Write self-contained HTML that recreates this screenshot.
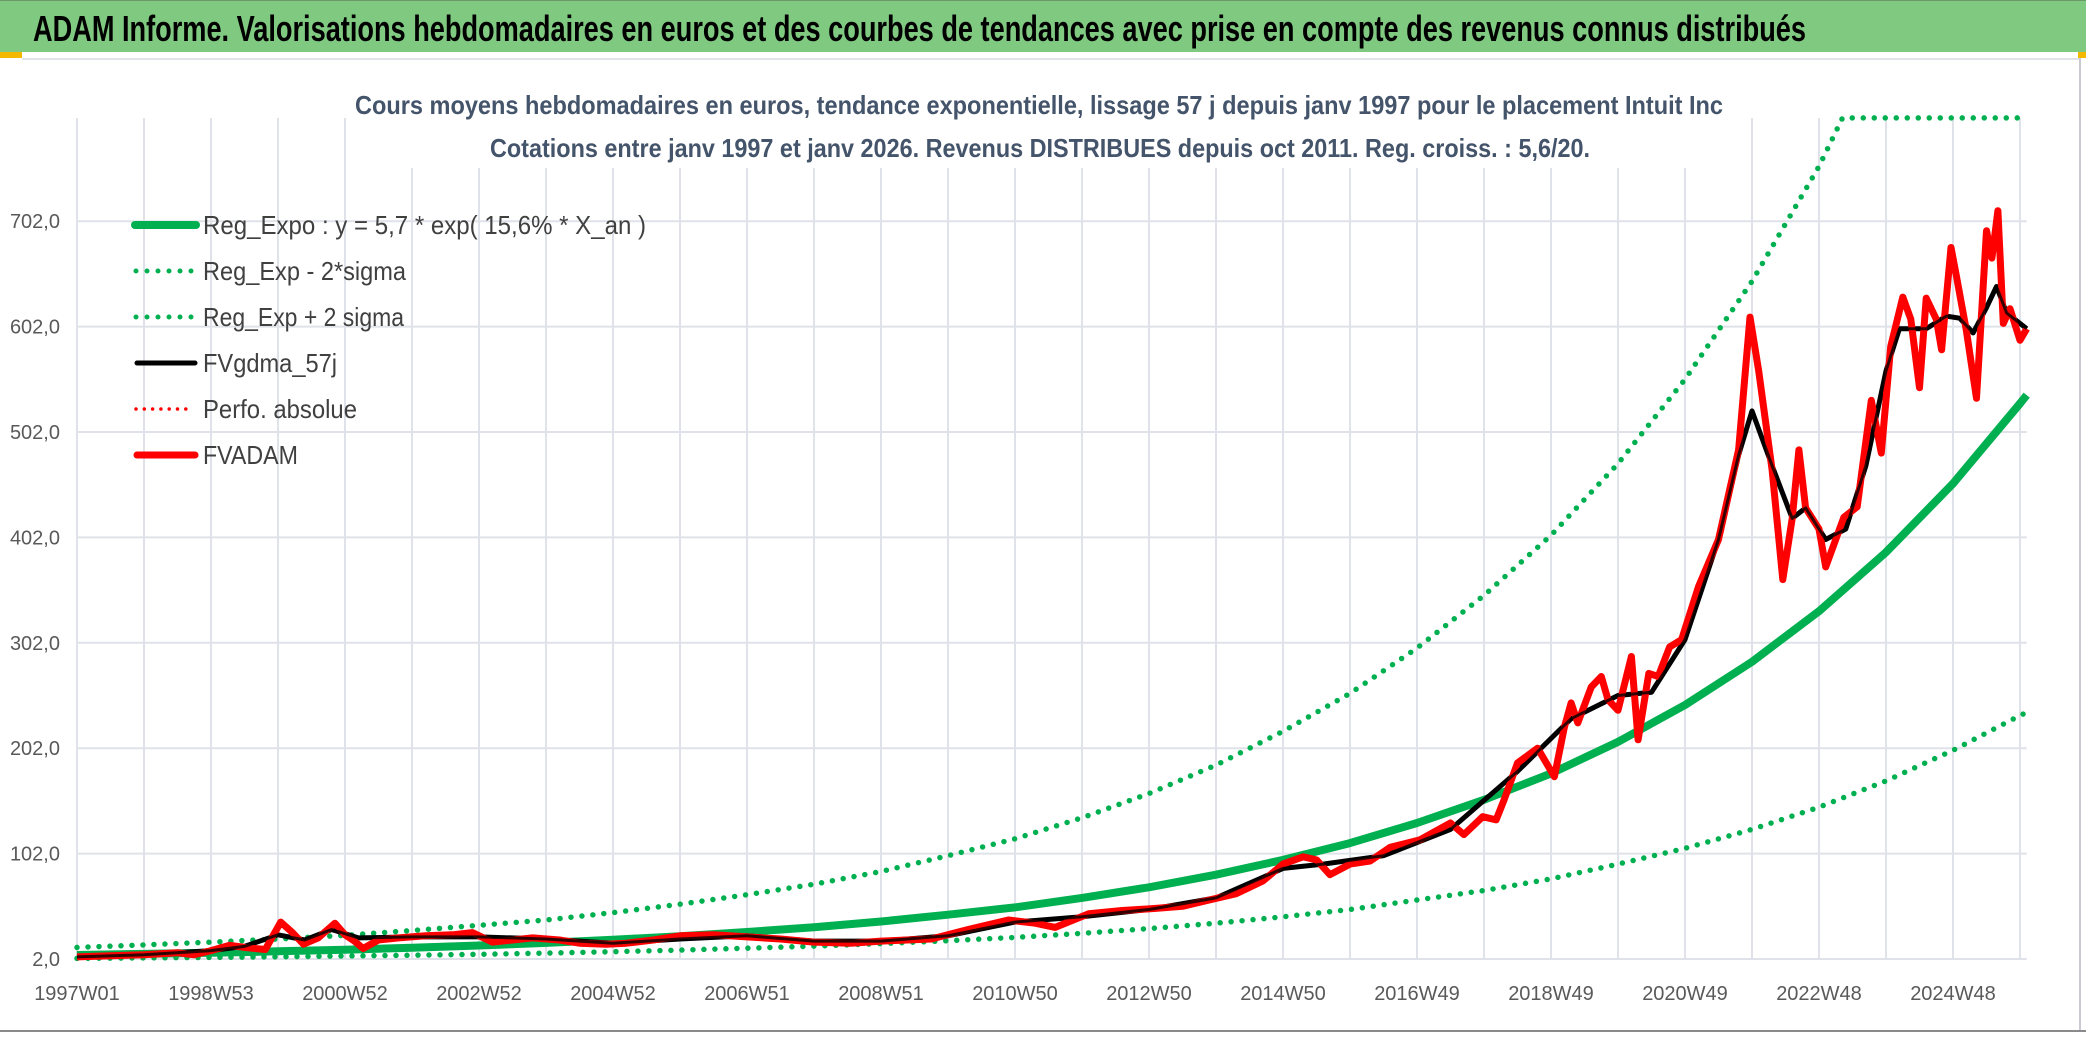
<!DOCTYPE html>
<html><head><meta charset="utf-8">
<style>
html,body{margin:0;padding:0;background:#fff;}
svg{display:block;font-family:"Liberation Sans",sans-serif;}
</style></head>
<body>
<svg id="chart" width="2086" height="1037" viewBox="0 0 2086 1037" xmlns="http://www.w3.org/2000/svg">
  <rect x="0" y="0" width="2086" height="1037" fill="#ffffff"/>
  <rect x="0" y="0" width="2086" height="52" fill="#80c980"/>
  <line x1="0" y1="0.5" x2="2086" y2="0.5" stroke="#6a9a6a" stroke-width="1"/>
  <rect x="0" y="52" width="22" height="6" fill="#f5b800"/>
  <rect x="2078" y="52" width="8" height="6" fill="#f5b800"/>
  <line x1="22" y1="59" x2="2080" y2="59" stroke="#e0e3e8" stroke-width="2"/>
  <line x1="2080" y1="58" x2="2080" y2="1030" stroke="#c8ccd2" stroke-width="2"/>
  <line x1="0" y1="1031" x2="2086" y2="1031" stroke="#8a8a8a" stroke-width="2"/>
  <text x="33" y="41" font-size="36" font-weight="bold" fill="#000" textLength="1773" lengthAdjust="spacingAndGlyphs">ADAM Informe. Valorisations hebdomadaires en euros et des courbes de tendances avec prise en compte des revenus connus distribués</text>
  <g id="grid"></g>
  <rect x="350" y="60" width="1380" height="108" fill="#ffffff"/>
  <text x="355" y="114" font-size="26" font-weight="bold" fill="#44546a" textLength="1368" lengthAdjust="spacingAndGlyphs">Cours moyens hebdomadaires en euros, tendance exponentielle, lissage 57 j depuis janv 1997 pour le placement Intuit Inc</text>
  <text x="490" y="157" font-size="26" font-weight="bold" fill="#44546a" textLength="1100" lengthAdjust="spacingAndGlyphs">Cotations entre janv 1997 et janv 2026. Revenus DISTRIBUES depuis oct 2011. Reg. croiss. : 5,6/20.</text>
  <g id="axes"></g>
  <g id="series"></g>
  <g id="legend">
    <line x1="135" y1="225" x2="196" y2="225" stroke="#00b050" stroke-width="8" stroke-linecap="round"/>
    <text x="203" y="234" font-size="26" fill="#404040" textLength="443" lengthAdjust="spacingAndGlyphs">Reg_Expo : y = 5,7 * exp( 15,6% *  X_an )</text>
    <line x1="136" y1="271" x2="196" y2="271" stroke="#00b050" stroke-width="5" stroke-linecap="round" stroke-dasharray="0 11"/>
    <text x="203" y="280" font-size="26" fill="#404040" textLength="203" lengthAdjust="spacingAndGlyphs">Reg_Exp - 2*sigma</text>
    <line x1="136" y1="317" x2="196" y2="317" stroke="#00b050" stroke-width="5" stroke-linecap="round" stroke-dasharray="0 11"/>
    <text x="203" y="326" font-size="26" fill="#404040" textLength="201" lengthAdjust="spacingAndGlyphs">Reg_Exp + 2 sigma</text>
    <line x1="137" y1="363" x2="195" y2="363" stroke="#000" stroke-width="5" stroke-linecap="round"/>
    <text x="203" y="372" font-size="26" fill="#404040" textLength="134" lengthAdjust="spacingAndGlyphs">FVgdma_57j</text>
    <line x1="136" y1="409" x2="194" y2="409" stroke="#ff0000" stroke-width="3.5" stroke-linecap="round" stroke-dasharray="0 8.3"/>
    <text x="203" y="418" font-size="26" fill="#404040" textLength="154" lengthAdjust="spacingAndGlyphs">Perfo. absolue</text>
    <line x1="137" y1="455" x2="195" y2="455" stroke="#ff0000" stroke-width="7" stroke-linecap="round"/>
    <text x="203" y="464" font-size="26" fill="#404040" textLength="95" lengthAdjust="spacingAndGlyphs">FVADAM</text>
  </g>
</svg>
<script>
// ---- data ----
const yTicks = [2, 102, 202, 302, 402, 502, 602, 702];
const yTickLabels = ["2,0","102,0","202,0","302,0","402,0","502,0","602,0","702,0"];
const xTickYears = [0,2,4,6,8,10,12,14,16,18,20,22,24,26,28];
const xTickLabels = ["1997W01","1998W53","2000W52","2002W52","2004W52","2006W51","2008W51","2010W50","2012W50","2014W50","2016W49","2018W49","2020W49","2022W48","2024W48"];
const trendT = [0,1,2,3,4,5,6,7,8,9,10,11,12,13,14,15,16,17,18,19,20,21,22,23,24,25,26,27,28,29,29.1];
const regExpo = [5.8,6.8,7.9,9.3,10.8,12.7,14.8,17.3,20.2,23.6,27.6,32.2,37.6,44,51,60,70,82,96,112,131,153,178,208,243,284,332,388,453,529,537];
const regLower = [2.6,3,3.5,4.1,4.8,5.6,6.5,7.6,8.9,10.4,12.2,14.2,16.6,19.4,22.5,26.4,30.8,36,42,49,58,67,78,92,107,125,146,171,200,233,236];
const upperT = [0,1,2,3,4,5,6,7,8,9,10,11,12,13,14,15,16,17,18,19,20,21,22,23,24,25,26,26.35,27,28,29,29.1];
const regUpper = [13,15.4,18,21,24.5,29,34,39,46,54,63,73,85,100,116,136,159,186,218,254,297,347,404,472,552,645,754,800,800,800,800,800];
const priceT = [0,0.5,1,1.5,1.74,2.0,2.28,2.5,2.81,3.04,3.2,3.38,3.6,3.85,4.0,4.14,4.27,4.5,4.8,5.2,5.6,5.9,6.2,6.5,6.8,7.2,7.5,7.9,8.2,8.6,9.0,9.5,10.0,10.5,11,11.55,12,12.75,13.3,13.9,14.3,14.6,15.1,15.6,16.1,16.5,16.9,17.3,17.7,18.0,18.3,18.5,18.7,19.0,19.3,19.6,20.04,20.5,20.7,20.98,21.18,21.3,21.5,21.8,22.05,22.2,22.3,22.4,22.6,22.75,22.85,23.0,23.2,23.3,23.46,23.6,23.77,23.95,24.2,24.5,24.8,24.97,25.1,25.3,25.46,25.6,25.7,25.8,26.0,26.1,26.37,26.57,26.78,26.93,27.07,27.25,27.37,27.5,27.6,27.75,27.83,27.97,28.05,28.2,28.35,28.5,28.58,28.67,28.75,28.85,29.0,29.1];
const priceV = [4,5,6,8,6,10,15,13,11,37,28,16,22,36,25,19,12,20,22,24,25,27,18,20,22,20,17,16,17,20,24,25,23,21,18,17,19,21,30,39,36,32,45,48,50,52,58,64,76,92,99,96,82,92,95,108,115,131,120,137,134,153,188,202,175,222,245,226,260,270,248,238,289,210,273,270,298,305,355,400,485,611,560,466,362,420,485,430,410,374,421,431,532,482,583,630,609,544,629,609,580,677,650,598,534,693,667,712,605,619,589,600];
const smoothT = [0,1,2,2.5,3.0,3.4,3.8,4.2,5,6,7,8,9,10,11,12,13,14,15,16,17,18,18.6,19.5,20.5,21.5,22.3,23,23.5,24,24.5,24.8,25.0,25.3,25.6,25.8,26.1,26.4,26.7,27.0,27.2,27.6,27.9,28.1,28.3,28.5,28.65,28.8,29.1];
const smoothV = [4,6,10,14,25,20,30,22,23,23,21,17,21,24,19,19,24,37,42,49,60,88,92,100,125,180,230,252,255,305,400,480,522,470,420,430,400,410,470,560,600,600,612,610,596,620,640,615,600];

// ---- axes ----
const X0 = 77, PX_PER_YEAR = 67;
const Y0 = 959, PX_PER_UNIT = 1.054;
function xs(t){ return X0 + t * PX_PER_YEAR; }
function ys(v){ return Y0 - (v - 2) * PX_PER_UNIT; }
const NS = "http://www.w3.org/2000/svg";
function mk(tag, attrs, parent){
  const e = document.createElementNS(NS, tag);
  for (const k in attrs) e.setAttribute(k, attrs[k]);
  parent.appendChild(e); return e;
}
const grid = document.getElementById('grid');
const axes = document.getElementById('axes');
const series = document.getElementById('series');

for (let yr = 0; yr <= 29; yr++) {
  const l = mk('line', {x1: xs(yr), y1: 118, x2: xs(yr), y2: Y0, stroke: '#dfe2e8', 'stroke-width': 2}, grid);
  
  
}
yTicks.forEach((v, i) => {
  const l = mk('line', {x1: X0, y1: ys(v), x2: xs(29.1), y2: ys(v), stroke: '#dfe2e8', 'stroke-width': 2}, grid);
  
  
  const t = mk('text', {x: 60, y: ys(v) + 7, 'font-size': 20, fill: '#595959', 'text-anchor': 'end'}, axes);
  
  
  t.textContent = yTickLabels[i];
});
xTickYears.forEach((yr, i) => {
  const t = mk('text', {x: xs(yr), y: 1000, 'font-size': 20, fill: '#595959', 'text-anchor': 'middle'}, axes);
  
  
  t.textContent = xTickLabels[i];
});

function pts(T, V){ return T.map((t, i) => xs(t).toFixed(1) + ',' + ys(V[i]).toFixed(1)).join(' '); }

const up = mk('polyline', {points: pts(upperT, regUpper), fill: 'none', stroke: '#00b050', 'stroke-width': 5.5, 'stroke-linecap': 'round', 'stroke-dasharray': '0 11'}, series);


const lo = mk('polyline', {points: pts(trendT, regLower), fill: 'none', stroke: '#00b050', 'stroke-width': 5.5, 'stroke-linecap': 'round', 'stroke-dasharray': '0 11'}, series);


const rg = mk('polyline', {points: pts(trendT, regExpo), fill: 'none', stroke: '#00b050', 'stroke-width': 8, 'stroke-linejoin': 'round'}, series);


const sm0 = mk('polyline', {points: pts(smoothT, smoothV), fill: 'none', stroke: '#000000', 'stroke-width': 5, 'stroke-linejoin': 'round'}, series);


const pr = mk('polyline', {points: pts(priceT, priceV), fill: 'none', stroke: '#ff0000', 'stroke-width': 7, 'stroke-linejoin': 'round'}, series);


const sm = mk('polyline', {points: pts(smoothT, smoothV), fill: 'none', stroke: '#000000', 'stroke-width': 3, 'stroke-linejoin': 'round', 'stroke-opacity': 0.8}, series);


</script>
</body></html>
